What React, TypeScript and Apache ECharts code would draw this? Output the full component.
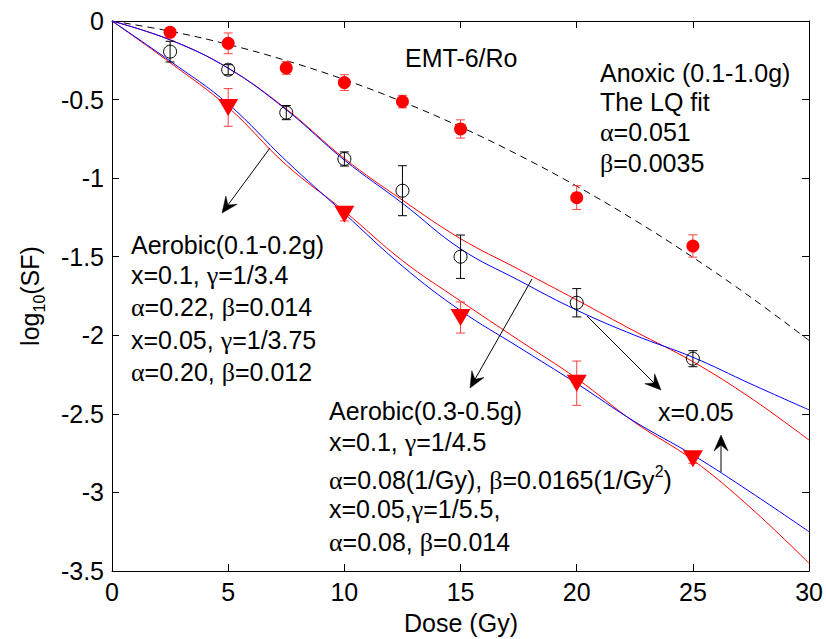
import React, { useEffect, useRef } from "react";
import * as echarts from "echarts";

// ---- data ----
const doseFit = [0, 2.5, 5, 7.5, 10, 12.5, 15, 17.5, 20, 22.5, 25, 27.5, 30];
const anoxicLQ = [0, -0.065, -0.149, -0.252, -0.373, -0.514, -0.674, -0.853, -1.051, -1.268, -1.504, -1.759, -2.033];
const upperRed = [0, -0.12, -0.3, -0.56, -0.875, -1.14, -1.385, -1.58, -1.775, -1.975, -2.168, -2.4, -2.667];
const upperBlue = [0, -0.12, -0.3, -0.565, -0.885, -1.16, -1.45, -1.65, -1.84, -2.0, -2.14, -2.31, -2.475];
const lowerRed = [0, -0.265, -0.549, -0.916, -1.21, -1.525, -1.782, -2.03, -2.275, -2.555, -2.794, -3.1, -3.451];
const lowerBlue = [0, -0.255, -0.528, -0.89, -1.225, -1.56, -1.843, -2.075, -2.307, -2.55, -2.762, -3.0, -3.25];

const doseMeas = [2.5, 5, 7.5, 10, 12.5, 15, 20, 25];
const anoxicMean = [-0.072, -0.142, -0.299, -0.392, -0.513, -0.687, -1.124, -1.432];
const anoxicErr = [0.03, 0.066, 0.04, 0.05, 0.04, 0.058, 0.076, 0.071];
const openMean = [-0.195, -0.31, -0.583, -0.878, -1.08, -1.5, -1.793, -2.149];
const openErr = [0.066, 0.032, 0.045, 0.045, 0.159, 0.138, 0.09, 0.051];

const triDose = [5, 10, 15, 20, 25];
const triMean = [-0.55, -1.23, -1.887, -2.305, -2.785];
const triErr = [0.12, 0.042, 0.099, 0.141, 0.03];

const xTicks = { min: 0, max: 30, interval: 5 };
const yTicks = { min: -3.5, max: 0, interval: 0.5 };

const SANS = "Liberation Sans";
const SERIF = "Liberation Serif";
const FS = 25;

const pairs = (xs: number[], ys: number[]) => xs.map((x, i) => [x, ys[i]]);
const triples = (xs: number[], ys: number[], es: number[]) => xs.map((x, i) => [x, ys[i], es[i]]);

const rich = {
  n: { fontFamily: SANS, fontSize: FS, fill: "#000", color: "#000" },
  g: { fontFamily: SERIF, fontSize: FS + 1, fill: "#000", color: "#000" },
  sup: { fontFamily: SANS, fontSize: 16, verticalAlign: "top", lineHeight: 34, color: "#000" },
  sub: { fontFamily: SANS, fontSize: 16, verticalAlign: "bottom", lineHeight: 34, color: "#000" },
};

function toRich(s: string) {
  let out = "";
  let buf = "";
  for (const ch of s) {
    if (ch === "α" || ch === "β" || ch === "γ") {
      if (buf) out += `{n|${buf}}`;
      buf = "";
      out += `{g|${ch}}`;
    } else buf += ch;
  }
  if (buf) out += `{n|${buf}}`;
  return out;
}

function txt(x: number, y: number, s: string, extra?: string) {
  return {
    type: "text",
    x,
    y,
    z: 50,
    style: {
      text: toRich(s) + (extra || ""),
      rich,
      fontFamily: SANS,
      fontSize: FS,
      fill: "#000",
      align: "left",
      verticalAlign: "middle",
    },
  };
}

function arrow(x1: number, y1: number, x2: number, y2: number) {
  const dx = x2 - x1, dy = y2 - y1;
  const L = Math.hypot(dx, dy);
  const ux = dx / L, uy = dy / L;
  const nx = -uy, ny = ux;
  const hl = 16, hw = 7, notch = 10;
  const bx = x2 - hl * ux, by = y2 - hl * uy;
  const mx = x2 - notch * ux, my = y2 - notch * uy;
  return [
    { type: "line", z: 50, shape: { x1, y1, x2: mx, y2: my }, style: { stroke: "#000", lineWidth: 1 } },
    {
      type: "polygon",
      z: 50,
      shape: { points: [[x2, y2], [bx + hw * nx, by + hw * ny], [mx, my], [bx - hw * nx, by - hw * ny]] },
      style: { fill: "#000", stroke: "#000", lineWidth: 0.5 },
    },
  ];
}

function errorSeries(data: number[][], color: string) {
  return {
    type: "custom",
    z: 4,
    data,
    encode: { x: 0, y: 1 },
    renderItem: (params: any, api: any) => {
      const x = api.value(0), y = api.value(1), e = api.value(2);
      const p1 = api.coord([x, y + e]);
      const p2 = api.coord([x, y - e]);
      const hw = 4.5;
      const st = { stroke: color, lineWidth: 1 };
      return {
        type: "group",
        children: [
          { type: "line", shape: { x1: p1[0], y1: p1[1], x2: p2[0], y2: p2[1] }, style: st },
          { type: "line", shape: { x1: p1[0] - hw, y1: p1[1], x2: p1[0] + hw, y2: p1[1] }, style: st },
          { type: "line", shape: { x1: p2[0] - hw, y1: p2[1], x2: p2[0] + hw, y2: p2[1] }, style: st },
        ],
      };
    },
  };
}

function fitLine(ys: number[], color: string, dashed = false) {
  return {
    type: "line",
    data: pairs(doseFit, ys),
    smooth: 0.4,
    showSymbol: false,
    symbol: "none",
    z: 2,
    lineStyle: { color, width: 1, type: dashed ? [7, 5] : "solid" },
  };
}

const axisCommon = {
  axisLine: { show: true, onZero: false, lineStyle: { color: "#000", width: 1 } },
  axisTick: { show: true, inside: true, length: 7, lineStyle: { color: "#000" } },
  splitLine: { show: false },
};

export default function App() {
  const ref = useRef<HTMLDivElement>(null);
  useEffect(() => {
    if (!ref.current) return;
    const chart = echarts.init(ref.current, null, { renderer: "svg" });
    const graphic: any[] = [
      txt(405, 58, "EMT-6/Ro"),
      txt(600, 73, "Anoxic (0.1-1.0g)"),
      txt(600, 102, "The LQ fit"),
      txt(600, 132, "α=0.051"),
      txt(600, 163, "β=0.0035"),
      txt(131, 245, "Aerobic(0.1-0.2g)"),
      txt(131, 275, "x=0.1, γ=1/3.4"),
      txt(131, 307, "α=0.22, β=0.014"),
      txt(131, 340, "x=0.05, γ=1/3.75"),
      txt(131, 372, "α=0.20, β=0.012"),
      txt(329, 411, "Aerobic(0.3-0.5g)"),
      txt(329, 442, "x=0.1, γ=1/4.5"),
      txt(329, 480, "α=0.08(1/Gy), β=0.0165(1/Gy", "{sup|2}{n|)}"),
      txt(329, 509, "x=0.05,γ=1/5.5,"),
      txt(329, 542, "α=0.08, β=0.014"),
      txt(658, 412, "x=0.05"),
      {
        type: "text",
        x: 30,
        y: 296,
        rotation: Math.PI / 2,
        z: 50,
        style: {
          text: "{n|log}{sub|10}{n|(SF)}",
          rich,
          align: "center",
          verticalAlign: "middle",
          fontFamily: SANS,
          fontSize: FS,
        },
      },
      {
        type: "text",
        x: 461,
        y: 623,
        z: 50,
        style: { text: "Dose (Gy)", fontFamily: SANS, fontSize: FS, fill: "#000", align: "center", verticalAlign: "middle" },
      },
      ...arrow(270, 148, 222, 213),
      ...arrow(532, 279, 470, 388),
      ...arrow(587, 316, 661, 390),
      ...arrow(721, 472, 721, 435),
    ];

    chart.setOption({
      animation: false,
      backgroundColor: "#fff",
      textStyle: { fontFamily: SANS },
      grid: { left: 112, top: 21, width: 698, height: 550, containLabel: false },
      xAxis: [
        {
          type: "value",
          position: "bottom",
          ...xTicks,
          ...axisCommon,
          axisLabel: { color: "#000", fontSize: FS, fontFamily: SANS, margin: 8 },
        },
        {
          type: "value",
          position: "top",
          ...xTicks,
          ...axisCommon,
          axisLabel: { show: false },
        },
      ],
      yAxis: [
        {
          type: "value",
          position: "left",
          ...yTicks,
          ...axisCommon,
          axisLabel: { color: "#000", fontSize: FS, fontFamily: SANS, margin: 8 },
        },
        {
          type: "value",
          position: "right",
          ...yTicks,
          ...axisCommon,
          axisLabel: { show: false },
        },
      ],
      graphic,
      series: [
        fitLine(anoxicLQ, "#000", true),
        fitLine(upperRed, "#ff0000"),
        fitLine(upperBlue, "#0000ff"),
        fitLine(lowerRed, "#ff0000"),
        fitLine(lowerBlue, "#0000ff"),
        errorSeries(triples(doseMeas, anoxicMean, anoxicErr), "#ff4040"),
        errorSeries(triples(doseMeas, openMean, openErr), "#000"),
        errorSeries(triples(triDose, triMean, triErr), "#ff4040"),
        {
          type: "scatter",
          data: pairs(doseMeas, anoxicMean),
          symbol: "circle",
          symbolSize: 13,
          z: 6,
          itemStyle: { color: "#ff0000", opacity: 1 },
        },
        {
          type: "scatter",
          data: pairs(doseMeas, openMean),
          symbol: "circle",
          symbolSize: 13,
          z: 6,
          itemStyle: { color: "rgba(0,0,0,0)", borderColor: "#000", borderWidth: 1, opacity: 1 },
        },
        {
          type: "scatter",
          data: pairs(triDose, triMean),
          symbol: "triangle",
          symbolRotate: 180,
          symbolSize: [20, 17],
          z: 6,
          itemStyle: { color: "#ff0000", opacity: 1 },
        },
      ],
    });
    return () => chart.dispose();
  }, []);
  return (
    <div
      ref={ref}
      style={{ position: "fixed", left: 0, top: 0, width: 826, height: 639, background: "#fff" }}
    />
  );
}
